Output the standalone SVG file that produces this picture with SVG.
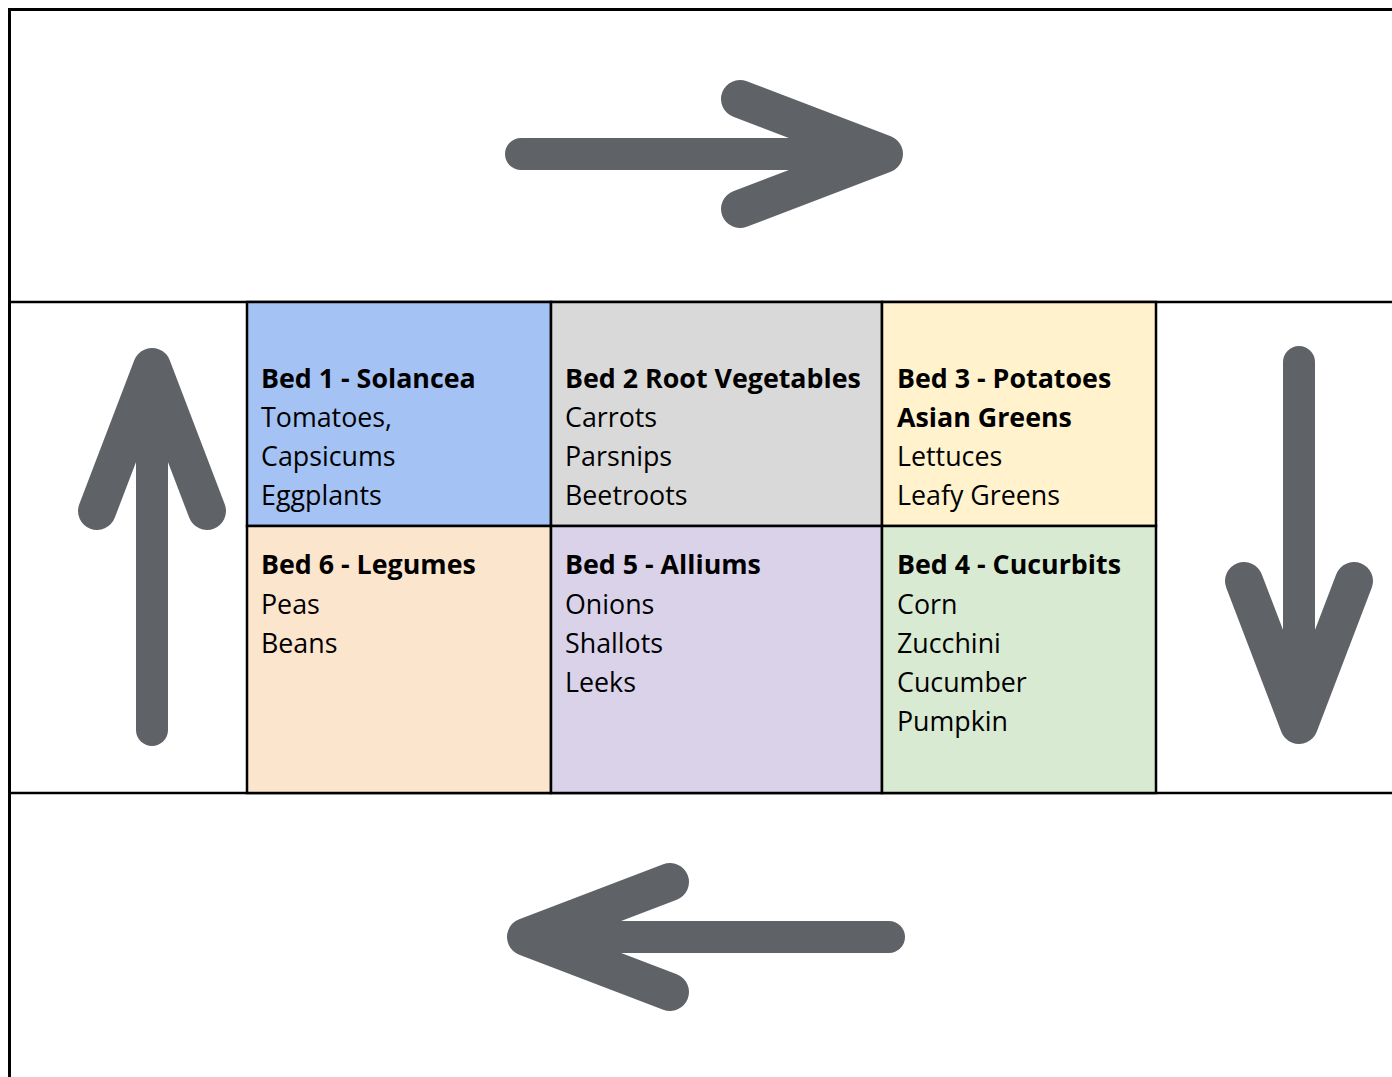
<svg xmlns="http://www.w3.org/2000/svg" width="1392" height="1077" viewBox="0 0 1392 1077">
<defs>
<style>
.cell{stroke:#000;stroke-width:2.5}
.line{stroke:#000;stroke-width:2.5;fill:none}
.border{stroke:#000;stroke-width:3;fill:none}
text{font-family:"Open Sans","Noto Sans","DejaVu Sans",sans-serif;font-size:26.8px;fill:#000}
.b{font-weight:bold}
.shaft{stroke:#5f6368;stroke-width:32;stroke-linecap:round;fill:none}
.head{stroke:#5f6368;stroke-width:38;stroke-linecap:round;stroke-linejoin:round;fill:none}
</style>
<g id="arrowShape">
<path class="shaft" d="M-382 0H-30"/>
<path class="head" d="M-163 -55L-19 0L-163 55"/>
</g>
</defs>
<rect x="0" y="0" width="1392" height="1077" fill="#fff"/>
<g id="frame">
<path class="border" d="M9.5 1077V9.5H1392"/>
<path class="line" d="M9 302H1392M9 793H1392"/>
</g>
<g id="bed1"><rect class="cell" x="247" y="302" width="304" height="224" fill="#a4c2f4"/>
<text x="261" y="388"><tspan class="b">Bed 1 - Solancea</tspan><tspan x="261" y="427">Tomatoes,</tspan><tspan x="261" y="466">Capsicums</tspan><tspan x="261" y="505">Eggplants</tspan></text></g>
<g id="bed2"><rect class="cell" x="551" y="302" width="331" height="224" fill="#d9d9d9"/>
<text x="565" y="388"><tspan class="b">Bed 2 Root Vegetables</tspan><tspan x="565" y="427">Carrots</tspan><tspan x="565" y="466">Parsnips</tspan><tspan x="565" y="505">Beetroots</tspan></text></g>
<g id="bed3"><rect class="cell" x="882" y="302" width="274" height="224" fill="#fff2cc"/>
<text x="897" y="388"><tspan class="b">Bed 3 - Potatoes</tspan><tspan x="897" y="427" class="b">Asian Greens</tspan><tspan x="897" y="466">Lettuces</tspan><tspan x="897" y="505">Leafy Greens</tspan></text></g>
<g id="bed6"><rect class="cell" x="247" y="526" width="304" height="267" fill="#fce5cd"/>
<text x="261" y="574"><tspan class="b">Bed 6 - Legumes</tspan><tspan x="261" y="614">Peas</tspan><tspan x="261" y="653">Beans</tspan></text></g>
<g id="bed5"><rect class="cell" x="551" y="526" width="331" height="267" fill="#d9d2e9"/>
<text x="565" y="574"><tspan class="b">Bed 5 - Alliums</tspan><tspan x="565" y="614">Onions</tspan><tspan x="565" y="653">Shallots</tspan><tspan x="565" y="692">Leeks</tspan></text></g>
<g id="bed4"><rect class="cell" x="882" y="526" width="274" height="267" fill="#d9ead3"/>
<text x="897" y="574"><tspan class="b">Bed 4 - Cucurbits</tspan><tspan x="897" y="614">Corn</tspan><tspan x="897" y="653">Zucchini</tspan><tspan x="897" y="692">Cucumber</tspan><tspan x="897" y="731">Pumpkin</tspan></text></g>
<g id="connectors">
<use href="#arrowShape" transform="translate(903,154)"/>
<use href="#arrowShape" transform="translate(1299,744) rotate(90)"/>
<use href="#arrowShape" transform="translate(507,937) rotate(180)"/>
<use href="#arrowShape" transform="translate(152,348) rotate(-90)"/>
</g>
</svg>
